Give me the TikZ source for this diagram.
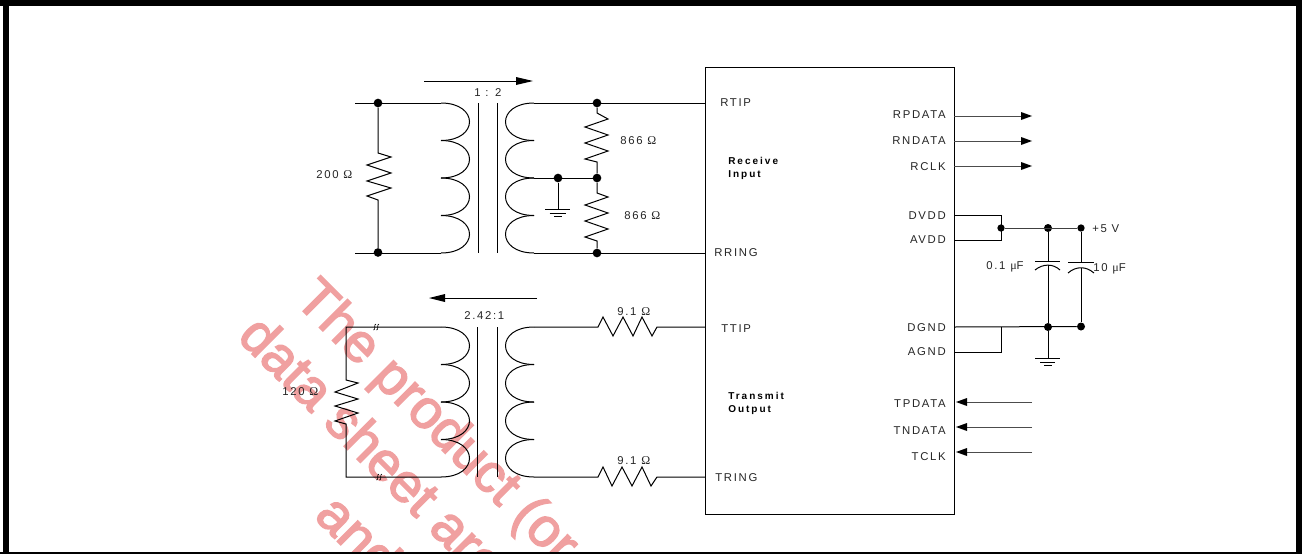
\documentclass[tikz,border=0pt]{standalone}
\usepackage{fontspec}
\setmainfont{Liberation Sans}
\newfontfamily\lab[LetterSpace=15]{Liberation Sans}
\newfontfamily\labb[LetterSpace=20]{Liberation Sans Bold}
\newfontfamily\wm[FakeBold=2.6]{Liberation Sans}
\newfontfamily\symf{Liberation Serif}
\newcommand{\Om}{{\symf\fontsize{9}{9}\selectfont Ω}}
\newcommand{\Mu}{{\symf\fontsize{9}{9}\selectfont μ}}
\definecolor{wmark}{HTML}{F0A0A0}
\tikzset{
  x=0.75pt,y=-0.75pt,
  wire/.style={line width=0.75pt,black,line join=miter},
  lt/.style={font=\lab\fontsize{8.5}{9}\selectfont,inner sep=0pt,text=black!85,anchor=base west},
  rt/.style={font=\lab\fontsize{8.5}{9}\selectfont,inner sep=0pt,text=black!85,anchor=base east},
  bt/.style={font=\labb\fontsize{7.5}{9}\selectfont,inner sep=0pt,anchor=base west},
  dotn/.style={circle,fill=black,inner sep=0pt,minimum size=6.5pt},
  wmt/.style={font=\wm\fontsize{41}{50}\selectfont,text=wmark,draw=none,inner sep=0pt,anchor=base west,rotate=-45},
  tip/.style={fill=black,draw=none},
}
\newcommand{\coilR}[2]{(441,#1) .. controls (479,#1) and (479,#2) .. (441,#2)}
\newcommand{\coilL}[2]{(534,#1) .. controls (496,#1) and (496,#2) .. (534,#2)}
\begin{document}
\begin{tikzpicture}
\useasboundingbox (0,0) rectangle (1302,554);
\fill[white] (0,0) rectangle (1302,554);
% watermark
\begin{scope}
\clip (9,6) rectangle (1296,552);
\node[wmt] (w1) at (293,301) {The product (or};
\node[wmt] (w2) at (236,338) {data sheet are};
\node[wmt] (w3) at (313,517) {and};
\end{scope}
% frame
\fill[black] (0,0) rectangle (1302,6);
\fill[black] (3,0) rectangle (9,554);
\fill[black] (1296,0) rectangle (1302,554);
\fill[black] (0,552) rectangle (1302,554);
% chip
\node[draw,line width=0.85pt,minimum width=186.75pt,minimum height=335.25pt,inner sep=0pt,anchor=north west] (chip) at (705,67) {};
% upper transformer
\foreach \a/\b in {103/140.5,140.5/178,178/215.5,215.5/253}{
  \draw[wire] \coilR{\a}{\b};
  \draw[wire] \coilL{\a}{\b};
}
\draw[wire] (478,103) -- (478,253);
\draw[wire] (497,103) -- (497,253);
\coordinate (ua) at (355,103);
\coordinate (ub) at (355,253);
\node[dotn] (d1) at (378,103) {};
\node[dotn] (d2) at (378,252.5) {};
\node[dotn] (d3) at (597,103) {};
\node[dotn] (d4) at (597,178) {};
\node[dotn] (d5) at (558,178) {};
\node[dotn] (d6) at (597,253) {};
\draw[wire] (ua) -- (441,103);
\draw[wire] (ub) -- (441,253);
\draw[wire] (534,103) -- (705,103);
\draw[wire] (534,253) -- (705,253);
\draw[wire] (534,178) -- (597,178);
\draw[wire] (d1) -- (378,153) -- (391,157) -- (367,165) -- (391,173) -- (367,181) -- (391,188) -- (367,196) -- (378,200) -- (d2);
\draw[wire] (d3) -- (597,113) -- (608,119) -- (585,127) -- (608,135) -- (585,143) -- (608,151) -- (585,159) -- (597,162) -- (d4);
\draw[wire] (d4) -- (597,193) -- (608,197) -- (585,205) -- (608,213) -- (585,221) -- (608,229) -- (585,237) -- (597,241) -- (d6);
\draw[wire] (d5) -- (558,209);
\draw[wire] (545,209) -- (570,209) (549.5,213) -- (565.5,213) (554,216.5) -- (562,216.5);
% upper arrow
\draw[wire] (424,81) -- (518,81);
\fill[tip] (516,77) -- (533,81) -- (516,85) -- cycle;
% lower transformer
\foreach \a/\b in {327/364.5,364.5/402,402/439.5,439.5/477}{
  \draw[wire] \coilR{\a}{\b};
  \draw[wire] \coilL{\a}{\b};
}
\draw[wire] (477.5,327) -- (477.5,477);
\draw[wire] (497,327) -- (497,477);
\draw[wire] (441,327) -- (346,327) -- (346,380) -- (358,383) -- (335,392) -- (358,399) -- (335,406) -- (358,413) -- (335,421) -- (346,424) -- (346,477) -- (441,477);
\draw[wire] (534,327) -- (598,327) -- (603,317) -- (613,336) -- (623,317) -- (633,336) -- (642,317) -- (652,336) -- (657,327) -- (705,327);
\draw[wire] (534,477) -- (598,477) -- (603,467) -- (612,486) -- (622,467) -- (632,486) -- (642,467) -- (651,486) -- (657,477) -- (705,477);
% break marks
\foreach \x/\y in {376.5/327,379.5/477}{
  \draw[line width=0.5pt] (\x-3,\y+3) .. controls (\x-0.5,\y+3) and (\x-3,\y-3) .. (\x-0.5,\y-3);
  \draw[line width=0.5pt] (\x,\y+3) .. controls (\x+2.5,\y+3) and (\x,\y-3) .. (\x+2.5,\y-3);
}
% lower arrow
\draw[wire] (537,298) -- (443,298);
\fill[tip] (445,294) -- (429,298) -- (445,302) -- cycle;
% outputs
\foreach \y in {116,141,166}{
  \draw[wire,black!70] (954,\y) -- (1023,\y);
  \fill[tip] (1021,\y-4) -- (1032,\y) -- (1021,\y+4) -- cycle;
}
% inputs
\foreach \y in {402,427,452}{
  \draw[wire,black!70] (1032,\y) -- (965,\y);
  \fill[tip] (967,\y-4) -- (956,\y) -- (967,\y+4) -- cycle;
}
% power
\node[dotn,minimum size=5.5pt] (p1) at (1001,228) {};
\node[dotn,minimum size=6pt] (p2) at (1048,228) {};
\node[dotn,minimum size=5.5pt] (p3) at (1081,228) {};
\node[dotn,minimum size=6pt] (p4) at (1048,327) {};
\node[dotn,minimum size=6pt] (p5) at (1081,326.5) {};
\draw[wire] (954,215) -- (1001,215) -- (1001,240) -- (954,240);
\draw[wire,black!75] (p1) -- (p3);
\draw[wire] (954,327) -- (p5);
\draw[wire] (954,352) -- (1001,352) -- (1001,327);
\draw[wire] (p2) -- (1048,261);
\draw[wire] (1035,261) -- (1060,261);
\draw[wire] (1035,270) .. controls (1043,263.5) and (1053,263.5) .. (1060,270);
\draw[wire] (1048,265) -- (p4);
\draw[wire] (p3) -- (1081,262);
\draw[wire] (1068,262) -- (1094,262);
\draw[wire] (1068,273) .. controls (1076,266) and (1086,266) .. (1094,273);
\draw[wire] (1081,268) -- (p5);
\draw[wire] (p4) -- (1048,358);
\draw[wire] (1035,358) -- (1060,358) (1040,362) -- (1055,362) (1044,365.5) -- (1052,365.5);
% labels
\node[lt] (t1) at (720,106) {RTIP};
\node[lt] (t2) at (714,256) {RRING};
\node[lt] (t3) at (721,332) {TTIP};
\node[lt] (t4) at (715,481) {TRING};
\node[bt] (t5) at (728,164) {Receive};
\node[bt] (t6) at (728,177) {Input};
\node[bt] (t7) at (728,399) {Transmit};
\node[bt] (t8) at (728,412) {Output};
\node[rt] (r1) at (946,118) {RPDATA};
\node[rt] (r2) at (946,144) {RNDATA};
\node[rt] (r3) at (946,170) {RCLK};
\node[rt] (r4) at (946,219) {DVDD};
\node[rt] (r5) at (946,243) {AVDD};
\node[rt] (r6) at (946,331) {DGND};
\node[rt] (r7) at (946,355) {AGND};
\node[rt] (r8) at (946,407) {TPDATA};
\node[rt] (r9) at (946,434) {TNDATA};
\node[rt] (r10) at (946,460) {TCLK};
\node[lt] (v1) at (1092,232) {+5 V};
\node[lt] (v2) at (986,269) {0.1 \Mu F};
\node[lt] (v3) at (1093,271) {10 \Mu F};
\node[lt] (o1) at (316,178) {200 \Om};
\node[lt] (o2) at (282,395) {120 \Om};
\node[lt] (o3) at (620,144) {866 \Om};
\node[lt] (o4) at (624,219) {866 \Om};
\node[lt] (o5) at (617,315) {9.1 \Om};
\node[lt] (o6) at (617,464) {9.1 \Om};
\node[lt] (c1) at (474,96) {1 : 2};
\node[lt] (c2) at (464,319) {2.42:1};
\end{tikzpicture}
\end{document}
